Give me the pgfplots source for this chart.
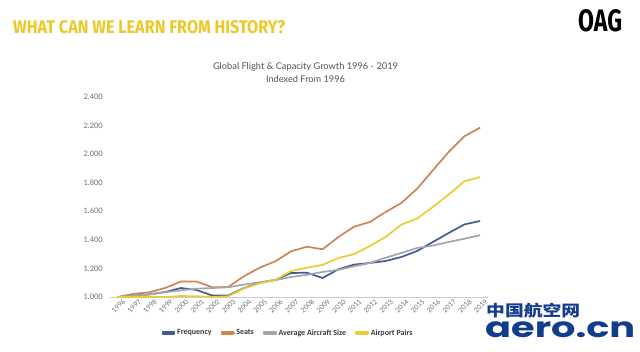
\documentclass[border=0pt]{standalone}
\usepackage{pgfplots}
\pgfplotsset{compat=1.18}
\usepackage{fontspec}
\setmainfont{Lato}
\newfontfamily\titlefont{Fira Sans}
\newfontfamily\legfont{Carlito}
\newfontfamily\cjk{Noto Sans CJK SC}
\newfontfamily\logofont{Poppins}
\definecolor{cfreq}{RGB}{68,90,148}
\definecolor{cseat}{RGB}{205,133,85}
\definecolor{csize}{RGB}{165,165,170}
\definecolor{cpair}{RGB}{232,205,55}
\definecolor{ctitle}{RGB}{236,200,40}
\definecolor{cwm}{RGB}{18,60,140}
\definecolor{ctick}{RGB}{110,110,110}
\pgfplotstableread{
idx freq seats size pairs
0  1.000 1.000 1.000 1.000
1  1.010 1.022 1.008 1.000
2  1.018 1.033 1.018 1.000
3  1.035 1.063 1.033 1.000
4  1.063 1.108 1.047 1.007
5  1.049 1.108 1.058 1.005
6  1.010 1.068 1.063 1.000
7  1.010 1.070 1.068 1.005
8  1.062 1.145 1.087 1.060
9  1.100 1.205 1.103 1.095
10 1.120 1.250 1.118 1.120
11 1.168 1.320 1.140 1.182
12 1.170 1.352 1.155 1.205
13 1.133 1.334 1.175 1.225
14 1.194 1.420 1.190 1.273
15 1.227 1.492 1.215 1.300
16 1.238 1.525 1.238 1.357
17 1.252 1.595 1.275 1.420
18 1.280 1.658 1.308 1.507
19 1.322 1.758 1.343 1.549
20 1.385 1.887 1.360 1.630
21 1.448 2.015 1.385 1.717
22 1.508 2.125 1.408 1.810
23 1.532 2.186 1.432 1.840
}\datatable
\begin{document}
\begin{tikzpicture}[x=1pt,y=1pt]
\path[use as bounding box] (0,0) rectangle (640,351);
\node[anchor=south west,inner sep=0,text=ctitle] at (13,317) {\resizebox{272pt}{13pt}{\titlefont\bfseries WHAT CAN WE LEARN FROM HISTORY?}};
\node[anchor=south west,inner sep=0,text=black] at (578,319) {\resizebox{44pt}{22pt}{\titlefont\bfseries OAG}};
\node[inner sep=0,text=black!68] at (305.5,284) {\resizebox{185pt}{!}{Global Flight \& Capacity Growth 1996 - 2019}};
\node[inner sep=0,text=black!68] at (305.5,272) {\resizebox{79pt}{!}{Indexed From 1996}};
\begin{axis}[
  at={(110pt,54pt)}, anchor=south west,
  scale only axis, width=378pt, height=200pt,
  xmin=-0.5, xmax=23.5, ymin=1, ymax=2.4,
  axis lines*=left,
  x axis line style={draw=black!20,-},
  y axis line style={draw=none},
  major tick length=0pt,
  ytick={1,1.2,1.4,1.6,1.8,2,2.2,2.4},
  xtick={0,...,23},
  xticklabels={1996,1997,1998,1999,2000,2001,2002,2003,2004,2005,2006,2007,2008,2009,2010,2011,2012,2013,2014,2015,2016,2017,2018,2019},
  /pgf/number format/.cd, fixed, fixed zerofill, precision=3, assume math mode=true,
  /pgfplots/.cd,
  yticklabel style={font=\fontsize{7.5}{8}\selectfont, text=ctick, anchor=east, inner sep=0pt, xshift=-7pt},
  xticklabel style={rotate=45, anchor=east, font=\fontsize{6.8}{8}\selectfont, text=ctick, inner sep=0pt, yshift=-7pt, xshift=2pt},
  legend style={at={(0.4696,-0.18)}, anchor=center, draw=none, fill=none, legend columns=4,
    font=\legfont\bfseries\fontsize{8}{9}\selectfont, text=black!78,
    nodes={inner xsep=1pt},
    /tikz/every odd column/.append style={column sep=0pt},
    /tikz/every even column/.append style={column sep=8pt}},
  legend image code/.code={\draw[#1, line width=1.5pt] (0pt,0pt) -- (13pt,0pt); \path[use as bounding box] (0pt,-1pt) rectangle (12pt,1pt);},
  every axis plot/.append style={line width=1.7pt, line join=round},
]
\addplot[cfreq, no marks] table[x=idx,y=freq] {\datatable};
\addlegendentry{Frequency}
\addplot[cseat, no marks] table[x=idx,y=seats] {\datatable};
\addlegendentry{Seats}
\addplot[csize, no marks] table[x=idx,y=size] {\datatable};
\addlegendentry{Average Aircraft Size}
\addplot[cpair, no marks] table[x=idx,y=pairs] {\datatable};
\addlegendentry{Airport Pairs}
\end{axis}
\node[anchor=south west,inner sep=0,text=cwm] at (486,33) {\resizebox*{94pt}{15pt}{\cjk\bfseries 中国航空网}};
\node[anchor=south west,inner sep=0,text=cwm] at (485,13) {\resizebox*{150pt}{16pt}{\logofont\bfseries aero.cn}};
\end{tikzpicture}
\end{document}
